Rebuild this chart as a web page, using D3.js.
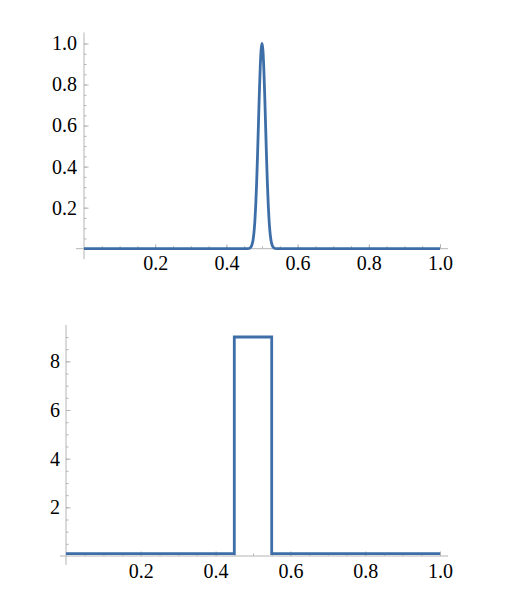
<!DOCTYPE html>
<html>
<head>
<meta charset="utf-8">
<script src="https://cdn.jsdelivr.net/npm/d3@7"></script>
<style>
  html, body { margin: 0; padding: 0; background: #fff; }
</style>
</head>
<body>
<svg id="chart" width="525" height="614"></svg>
<script>
// ---- data ----
const peakX = [0, 0.455, 0.46, 0.465, 0.47, 0.4725, 0.475, 0.4775, 0.48, 0.4825, 0.485, 0.4875, 0.49, 0.4925, 0.495, 0.4975, 0.5,
               0.5025, 0.505, 0.5075, 0.51, 0.5125, 0.515, 0.5175, 0.52, 0.5225, 0.525, 0.5275, 0.53, 0.535, 0.54, 0.545, 1];
const peakY = [0, 0, 0.0003, 0.002, 0.011, 0.023, 0.044, 0.080, 0.135, 0.216, 0.325, 0.458, 0.607, 0.755, 0.883, 0.969, 1.0,
               0.969, 0.883, 0.755, 0.607, 0.458, 0.325, 0.216, 0.135, 0.080, 0.044, 0.023, 0.011, 0.002, 0.0003, 0, 0];
const stepX = [0, 0.45, 0.55, 1];
const stepY = [0.1, 9, 0.1, 0.1];

const topXTicks = [0.2, 0.4, 0.6, 0.8, 1.0];
const topXTickLabels = ["0.2", "0.4", "0.6", "0.8", "1.0"];
const topYTicks = [0.2, 0.4, 0.6, 0.8, 1.0];
const topYTickLabels = ["0.2", "0.4", "0.6", "0.8", "1.0"];
const botXTicks = [0.2, 0.4, 0.6, 0.8, 1.0];
const botXTickLabels = ["0.2", "0.4", "0.6", "0.8", "1.0"];
const botYTicks = [2, 4, 6, 8];
const botYTickLabels = ["2", "4", "6", "8"];

// ---- styles ----
const lineColor = "#3d6ea8";
const axisColor = "#b4b4b4";
const fontSize = 20;
const fontFamily = "'Liberation Serif', 'DejaVu Serif', 'Times New Roman', serif";

const svg = d3.select("#chart");

function panel(cfg) {
  const g = svg.append("g");
  const x = d3.scaleLinear().domain([0, 1]).range([cfg.x0, cfg.x1]);
  const y = d3.scaleLinear().domain([0, cfg.yMax]).range([cfg.y0, cfg.y1]);

  g.append("line")
    .attr("x1", x(0) - cfg.xLeftExt).attr("x2", x(1) + cfg.xRightExt)
    .attr("y1", y(0)).attr("y2", y(0))
    .attr("stroke", axisColor).attr("stroke-width", 1);
  g.append("line")
    .attr("x1", x(0)).attr("x2", x(0))
    .attr("y1", y(0) + cfg.yBottomExt).attr("y2", y(cfg.yMax) - cfg.yTopExt)
    .attr("stroke", axisColor).attr("stroke-width", 1);

  const xMinor = g.append("g").attr("transform", `translate(0,${y(0)})`)
    .call(d3.axisBottom(x).tickValues(cfg.xMinor).tickSizeInner(-2.5).tickSizeOuter(0).tickFormat(""));
  const xMajor = g.append("g").attr("transform", `translate(0,${y(0)})`)
    .call(d3.axisBottom(x).tickValues(cfg.xTicks).tickSizeInner(-4.5).tickSizeOuter(0)
      .tickPadding(cfg.xLabelPad).tickFormat((d, i) => cfg.xLabels[i]));
  const yMinor = g.append("g").attr("transform", `translate(${x(0)},0)`)
    .call(d3.axisLeft(y).tickValues(cfg.yMinor).tickSizeInner(-2.5).tickSizeOuter(0).tickFormat(""));
  const yMajor = g.append("g").attr("transform", `translate(${x(0)},0)`)
    .call(d3.axisLeft(y).tickValues(cfg.yTicks).tickSizeInner(-4.5).tickSizeOuter(0)
      .tickPadding(cfg.yLabelPad).tickFormat((d, i) => cfg.yLabels[i]));

  [xMinor, xMajor, yMinor, yMajor].forEach(a => {
    a.attr("font-family", null).attr("font-size", null);
    a.select(".domain").remove();
    a.selectAll(".tick line").attr("stroke", axisColor).attr("stroke-width", 1);
    a.selectAll(".tick text")
      .style("font-family", fontFamily)
      .style("font-size", fontSize + "px")
      .style("fill", "#000");
  });

  const line = d3.line().x(d => x(d[0])).y(d => y(d[1])).curve(cfg.curve);
  g.append("path")
    .datum(cfg.xs.map((v, i) => [v, cfg.ys[i]]))
    .attr("d", line)
    .attr("fill", "none")
    .attr("stroke", lineColor)
    .attr("stroke-width", 2.8)
    .attr("stroke-linejoin", "miter");
}

function range(a, b, s) { const r = []; for (let v = a; v <= b + 1e-9; v += s) r.push(+v.toFixed(4)); return r; }

panel({
  x0: 84, x1: 440, y0: 248.7, y1: 43.5, yMax: 1,
  xLeftExt: 8, xRightExt: 8, yBottomExt: 10.5, yTopExt: 11,
  xTicks: topXTicks, xLabels: topXTickLabels, xMinor: range(0.05, 1.0, 0.05),
  yTicks: topYTicks, yLabels: topYTickLabels, yMinor: range(0.05, 1.0, 0.05),
  xLabelPad: 7, yLabelPad: 7,
  xs: peakX, ys: peakY, curve: d3.curveMonotoneX
});

panel({
  x0: 66, x1: 440, y0: 556, y1: 337, yMax: 9,
  xLeftExt: 6, xRightExt: 8, yBottomExt: 9, yTopExt: 12,
  xTicks: botXTicks, xLabels: botXTickLabels, xMinor: range(0.05, 1.0, 0.05),
  yTicks: botYTicks, yLabels: botYTickLabels, yMinor: range(0.5, 9.0, 0.5),
  xLabelPad: 8, yLabelPad: 6,
  xs: stepX, ys: stepY, curve: d3.curveStepAfter
});
</script>
</body>
</html>
